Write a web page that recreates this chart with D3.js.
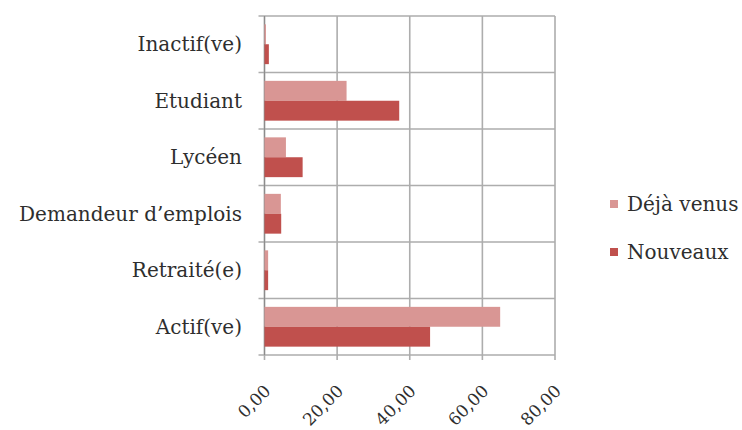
<!DOCTYPE html>
<html><head><meta charset="utf-8">
<script src="https://cdn.jsdelivr.net/npm/d3@7"></script>
<style>body{margin:0;background:#fff}</style>
</head><body>
<svg id="c" width="742" height="430"></svg>
<script>
const categories = ["Inactif(ve)", "Etudiant", "Lycéen", "Demandeur d\u2019emplois", "Retraité(e)", "Actif(ve)"];
const seriesNames = ["Déjà venus", "Nouveaux"];
const dejaVenus = [0.4, 22.6, 5.9, 4.5, 1.0, 64.9];
const nouveaux = [1.2, 37.1, 10.5, 4.6, 1.0, 45.6];
const xTicks = [0, 20, 40, 60, 80];
const colors = ["#d99694", "#c0504d"];

const svg = d3.select("#c");
const pL = 264.5, pR = 555, pT = 16, pB = 355;
const font = "'DejaVu Serif', serif";
const txt = "#2e2e2e";

const x = d3.scaleLinear().domain([0, 80]).range([pL, pR]);
const y = d3.scaleBand().domain(categories).range([pT, pB]);
const inner = d3.scaleBand().domain(seriesNames).range([0, y.bandwidth()]).paddingInner(0).paddingOuter(0.42);

// grid
const g = svg.append("g");
g.selectAll(".vg").data(xTicks).join("line")
  .attr("x1", d => x(d)).attr("x2", d => x(d)).attr("y1", pT).attr("y2", pB + 5)
  .attr("stroke", "#adadad").attr("stroke-width", 1.6);
const bounds = categories.map(c => y(c)).concat([pB]);
g.selectAll(".hg").data(bounds).join("line")
  .attr("x1", pL - 6).attr("x2", pR).attr("y1", d => d).attr("y2", d => d)
  .attr("stroke", "#adadad").attr("stroke-width", 1.6);
g.append("line").attr("x1", pL).attr("x2", pL).attr("y1", pT).attr("y2", pB)
  .attr("stroke", "#8c8c8c").attr("stroke-width", 1.2);

// bars
const data = [dejaVenus, nouveaux];
data.forEach((vals, si) => {
  svg.append("g").selectAll("rect").data(categories).join("rect")
    .attr("x", x(0))
    .attr("y", c => y(c) + inner(seriesNames[si]))
    .attr("width", (c, i) => x(vals[i]) - x(0))
    .attr("height", inner.bandwidth())
    .attr("fill", colors[si]);
});

// y labels
svg.append("g").selectAll("text").data(categories).join("text")
  .attr("x", 242).attr("y", c => y(c) + y.bandwidth() / 2)
  .attr("dy", "0.35em").attr("text-anchor", "end")
  .attr("font-family", font).attr("font-size", 20).attr("fill", txt)
  .text(c => c);

// x labels
const fmt = v => d3.format(".2f")(v).replace(".", ",");
svg.append("g").selectAll("text").data(xTicks).join("text")
  .attr("transform", d => `translate(${x(d) + 3},${pB + 33}) rotate(-45)`)
  .attr("text-anchor", "end").attr("dy", "0.35em")
  .attr("font-family", font).attr("font-size", 17).attr("fill", txt)
  .text(fmt);

// legend
const lg = svg.append("g");
seriesNames.forEach((s, i) => {
  const ly = 204 + i * 48;
  lg.append("rect").attr("x", 610).attr("y", ly - 4).attr("width", 8).attr("height", 8).attr("fill", colors[i]);
  lg.append("text").attr("x", 627).attr("y", ly).attr("dy", "0.35em")
    .attr("font-family", font).attr("font-size", 20).attr("fill", txt).text(s);
});
</script>
</body></html>
